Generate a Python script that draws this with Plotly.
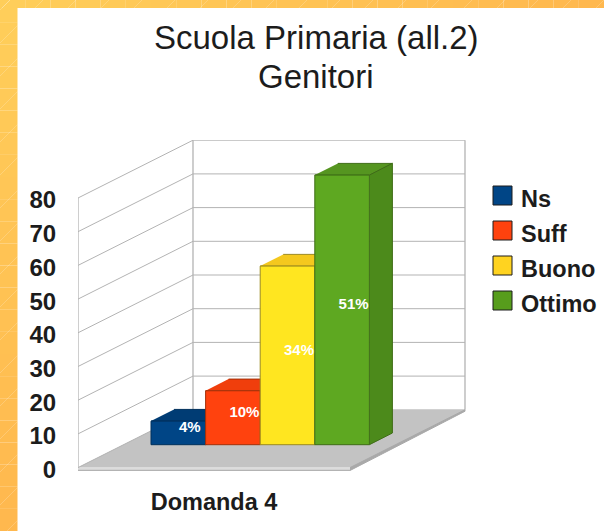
import plotly.graph_objects as go

# Data
series = ["Ns", "Suff", "Buono", "Ottimo"]
values = [7, 16, 53, 80]
labels = ["4%", "10%", "34%", "51%"]
front_colors = ["#004586", "#ff420e", "#ffe620", "#5ea821"]
top_colors = ["#003c74", "#f03e0c", "#f4c81e", "#559520"]
side_colors = ["#003767", "#d83a0c", "#d8b518", "#4c8a1b"]
edge_colors = ["#00305c", "#a33109", "#9c8a20", "#3f6d17"]
legend_colors = ["#004586", "#ff420e", "#ffd320", "#579d1c"]
y_ticks = [0, 10, 20, 30, 40, 50, 60, 70, 80]
category = "Domanda 4"
title_lines = ["Scuola Primaria (all.2)", "Genitori"]

# Layout constants (pixels in the 604x531 window)
W, H = 604, 531
PL, PR, PT, PB = 78, 466, 140, 471
Y0_PX, PX_PER_UNIT = 467.6, 3.37
SLOT = 54.6
BAR0_LEFT = 151
FONT = "Liberation Sans"
INK = "#1c1c1c"
GRID = "#b3b3b3"


def sx(px):
    return -0.5 + (px - BAR0_LEFT) / SLOT


WALL_DX = 115 / SLOT
WALL_DY = 57.8 / PX_PER_UNIT
BAR_BASE = 22.9 / PX_PER_UNIT
BAR_DX = 23 / SLOT
BAR_DY = 11.7 / PX_PER_UNIT
LABEL_LIFT = -1.6 / PX_PER_UNIT
FL, FR = sx(78), sx(350)
SLAB = -2.9 / PX_PER_UNIT

fig = go.Figure()


def poly(xs, ys, fill, line=None, z=0, lw=1):
    fig.add_trace(go.Scatter(
        x=xs, y=ys, mode="lines", fill="toself", fillcolor=fill,
        line=dict(color=line or fill, width=lw), hoverinfo="skip",
        showlegend=False, zorder=z))


# Floor and slab
poly([FL, FR, FR + WALL_DX, FL + WALL_DX], [0, 0, WALL_DY, WALL_DY], "#c3c3c3", z=1)
poly([FL, FR, FR, FL], [SLAB, SLAB, 0, 0], "#dcdcdc", z=1)
poly([FR, FR + WALL_DX, FR + WALL_DX, FR], [SLAB, WALL_DY + SLAB * 0.5, WALL_DY, 0], "#a9a9a9", z=1)

# Grid: slanted side wall + back wall
gx, gy = [], []
for t in y_ticks[1:]:
    gx += [FL, FL + WALL_DX, FR + WALL_DX, None]
    gy += [t, t + WALL_DY, t + WALL_DY, None]
fig.add_trace(go.Scatter(x=gx, y=gy, mode="lines", line=dict(color=GRID, width=1),
                         hoverinfo="skip", showlegend=False, zorder=2))
top = y_ticks[-1]
fig.add_trace(go.Scatter(
    x=[FL, FL, None, FL + WALL_DX, FL + WALL_DX, None, FR + WALL_DX, FR + WALL_DX, None, FL, FR],
    y=[0, top, None, WALL_DY, top + WALL_DY, None, WALL_DY, top + WALL_DY, None, SLAB, SLAB],
    mode="lines", line=dict(color=GRID, width=1.3), hoverinfo="skip", showlegend=False, zorder=2))
fig.add_trace(go.Scatter(x=[FL, FL + WALL_DX], y=[0, WALL_DY], mode="lines",
                         line=dict(color=GRID, width=1), hoverinfo="skip", showlegend=False, zorder=2))

# Bars
for i, (name, v) in enumerate(zip(series, values)):
    z = 3 + 2 * i
    b = BAR_BASE
    poly([i - 0.5, i + 0.5, i + 0.5 + BAR_DX, i - 0.5 + BAR_DX],
         [b + v, b + v, b + v + BAR_DY, b + v + BAR_DY], top_colors[i], edge_colors[i], z)
    poly([i + 0.5, i + 0.5 + BAR_DX, i + 0.5 + BAR_DX, i + 0.5],
         [b, b + BAR_DY, b + v + BAR_DY, b + v], side_colors[i], edge_colors[i], z)
    fig.add_trace(go.Bar(
        x=[i], y=[v], base=[b], width=[1], name=name,
        marker=dict(color=front_colors[i], line=dict(color=edge_colors[i], width=1)),
        hoverinfo="skip", showlegend=False, zorder=z + 1))

fig.add_trace(go.Scatter(
    x=[i + BAR_DX / 2 for i in range(len(values))],
    y=[BAR_BASE + v / 2 + BAR_DY / 2 + LABEL_LIFT for v in values],
    text=labels, mode="text", textposition="middle center",
    textfont=dict(family=FONT, size=15, color="white", weight="bold"),
    hoverinfo="skip", showlegend=False, zorder=20))

# Manual legend in paper coordinates


def px_x(px):
    return (px - PL) / (PR - PL)


def px_y(py):
    return (PB - py) / (PB - PT)


shapes = []
annotations = []
LEG_Y0 = 186
LEG_STEP = 35
for i, name in enumerate(series):
    y = LEG_Y0 + i * LEG_STEP
    shapes.append(dict(type="rect", xref="paper", yref="paper",
                       x0=px_x(493), x1=px_x(512), y0=px_y(y), y1=px_y(y + 19),
                       fillcolor=legend_colors[i], line=dict(color="#1c1c1c", width=1)))
    annotations.append(dict(xref="paper", yref="paper", x=px_x(519), y=px_y(y + 13),
                            text=name, showarrow=False, xanchor="left", yanchor="middle",
                            font=dict(family=FONT, size=23.5, color=INK, weight="bold")))


# Orange frame with a soft vertical shade and faint diagonal streaks
def shade(t):
    g = round(206 - 22 * t)
    b = round(90 - 12 * t)
    return f"rgb(255,{g},{b})"


STEPS = 24
for k in range(STEPS):
    y0, y1 = H * k / STEPS, H * (k + 1) / STEPS
    shapes.append(dict(type="rect", xref="paper", yref="paper", layer="above",
                       x0=px_x(0), x1=px_x(17.5), y0=px_y(y0), y1=px_y(y1),
                       fillcolor=shade(k / (STEPS - 1)), line=dict(width=0)))
    x0, x1 = W * k / STEPS, W * (k + 1) / STEPS
    shapes.append(dict(type="rect", xref="paper", yref="paper", layer="above",
                       x0=px_x(x0), x1=px_x(x1), y0=px_y(0), y1=px_y(8),
                       fillcolor=shade(k / (STEPS - 1)), line=dict(width=0)))
STREAK = "rgba(255,255,255,0.2)"
for c in range(10, W + H, 33):
    if c <= H + 17:
        shapes.append(dict(type="line", xref="paper", yref="paper", layer="above",
                           x0=px_x(0), y0=px_y(c), x1=px_x(17.5), y1=px_y(c - 17.5),
                           line=dict(color=STREAK, width=1)))
    if c >= 8:
        shapes.append(dict(type="line", xref="paper", yref="paper", layer="above",
                           x0=px_x(c - 8), y0=px_y(8), x1=px_x(c), y1=px_y(0),
                           line=dict(color=STREAK, width=1)))

for i, line in enumerate(title_lines):
    annotations.append(dict(xref="paper", yref="paper", x=px_x(316), y=px_y(38 + i * 38),
                            text=line, showarrow=False, xanchor="center", yanchor="middle",
                            font=dict(family=FONT, size=33, color=INK)))

fig.update_layout(
    width=W, height=H, margin=dict(l=PL, r=W - PR, t=PT, b=H - PB, pad=0, autoexpand=False),
    paper_bgcolor="white", plot_bgcolor="white", showlegend=False, barmode="overlay",
    shapes=shapes, annotations=annotations,
    xaxis=dict(range=[sx(PL), sx(PR)], tickvals=[sx(214)], ticktext=[category],
               showgrid=False, zeroline=False, showline=False, ticks="outside", ticklen=10,
               tickcolor="rgba(0,0,0,0)",
               tickfont=dict(family=FONT, size=23.5, color=INK, weight="bold")),
    yaxis=dict(range=[(Y0_PX - PB) / PX_PER_UNIT, (Y0_PX - PT) / PX_PER_UNIT],
               tickvals=y_ticks, showgrid=False, zeroline=False, showline=False,
               ticks="outside", ticklen=16, tickcolor="rgba(0,0,0,0)", ticklabelshift=2,
               tickfont=dict(family=FONT, size=24, color=INK, weight="bold")),
)

fig.write_html("out.html", config={"displayModeBar": False},
               post_script="document.body.style.margin='0';")
